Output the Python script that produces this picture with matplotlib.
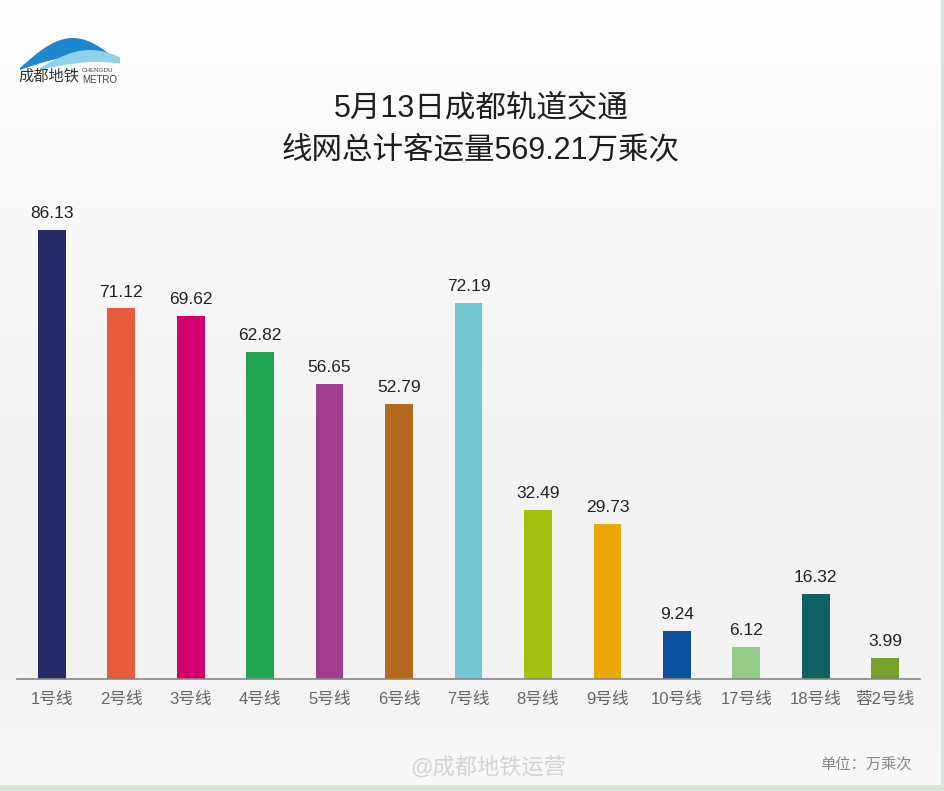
import numpy as np
import matplotlib.pyplot as plt
from matplotlib.patches import Polygon, Rectangle

# Arial-like latin glyphs, CJK from Noto
plt.rcParams['font.family'] = ['Liberation Sans', 'Noto Sans CJK SC', 'DejaVu Sans']

lines = ['1号线', '2号线', '3号线', '4号线', '5号线', '6号线', '7号线',
         '8号线', '9号线', '10号线', '17号线', '18号线', '蓉2号线']
ridership = [86.13, 71.12, 69.62, 62.82, 56.65, 52.79, 72.19,
             32.49, 29.73, 9.24, 6.12, 16.32, 3.99]
colors = ['#262a66', '#e75a3c', '#d1006e', '#22a652', '#a13e8f', '#b5691d', '#72c5d3',
          '#a4c10f', '#e9a700', '#0b51a0', '#93cb86', '#0e6264', '#77a12b']

W, H = 945, 791
fig = plt.figure(figsize=(W / 100, H / 100), dpi=100)

# background: white at the top, very light grey around the bars, lighter at the bottom
bg = fig.add_axes([0, 0, 1, 1], zorder=-10)
yy = np.linspace(0, 1, 400)  # 0 = top
shade = np.interp(yy, [0.0, 0.15, 0.55, 0.85, 1.0], [1.0, 0.985, 0.955, 0.955, 0.975])
bgimg = np.dstack([shade, shade, shade]).reshape(-1, 1, 3)
bg.imshow(bgimg, aspect='auto', extent=[0, 1, 0, 1])
# pale green frame on bottom/right edges
bg.add_patch(Rectangle((0, 0), 1, 6 / H, color='#d5e6d5', lw=0))
bg.add_patch(Rectangle((1 - 4 / W, 0), 4 / W, 1, color='#d5e6d5', lw=0))
bg.set_xlim(0, 1)
bg.set_ylim(0, 1)
bg.axis('off')

# logo swoosh
lx0, ly0 = 20 / W, 1 - 70 / H
t = np.linspace(0, 1, 60)
top = np.column_stack([lx0 + t * 95 / W, ly0 + (np.sin(t * np.pi * 0.9) * 30 + 2) / H])
bot = np.column_stack([lx0 + t[::-1] * 95 / W, ly0 + (np.sin(t[::-1] * np.pi * 0.75) * 14) / H])
bg.add_patch(Polygon(np.vstack([top, bot]), closed=True, color='#1e88cf', lw=0))
top2 = np.column_stack([lx0 + (20 + t * 80) / W, ly0 + (np.sin(t * np.pi * 0.8) * 18 + 2) / H])
bot2 = np.column_stack([lx0 + (20 + t[::-1] * 80) / W, ly0 + (np.sin(t[::-1] * np.pi * 0.7) * 8) / H])
bg.add_patch(Polygon(np.vstack([top2, bot2]), closed=True, color='#8fd3ea', lw=0))
fig.text(18 / W, 1 - 76 / H, '成都地铁', fontsize=11, color='#333333', va='center', ha='left')
fig.text(82 / W, 1 - 71 / H, 'CHENGDU', fontsize=4.5, color='#444444', va='center', ha='left')
fig.text(82 / W, 1 - 80 / H, 'METRO', fontsize=7, color='#444444', va='center', ha='left')

# title
fig.text(481 / W, 1 - 108 / H, '5月13日成都轨道交通', fontsize=22, color='#1e1e1e',
         ha='center', va='center')
fig.text(481 / W, 1 - 150 / H, '线网总计客运量569.21万乘次', fontsize=22, color='#1e1e1e',
         ha='center', va='center')

# chart
base_px, top_px = 679, 190
ax = fig.add_axes([17 / W, 1 - base_px / H, 903 / W, (base_px - top_px) / H])
ax.patch.set_alpha(0)
x = np.arange(len(lines))
ax.bar(x, ridership, width=0.40, color=colors, zorder=2)
for xi, v in zip(x, ridership):
    ax.text(xi, v + 1.7, f'{v:.2f}', ha='center', va='bottom', fontsize=12.5, color='#222222')
ax.set_xlim(-0.5, len(lines) - 0.5)
ax.set_ylim(0, (base_px - top_px) / 5.21)
ax.set_xticks(x)
ax.set_xticklabels(lines, fontsize=12, color='#666666')
ax.tick_params(axis='x', length=0, pad=9)
ax.set_yticks([])
for s in ['top', 'right', 'left']:
    ax.spines[s].set_visible(False)
ax.spines['bottom'].set_color('#888888')
ax.spines['bottom'].set_linewidth(1.2)

# footer texts
fig.text(488 / W, 1 - 769 / H, '@成都地铁运营', fontsize=16, color='#d4d4d4',
         ha='center', va='center')
fig.text(820 / W, 1 - 765 / H, '单位：万乘次', fontsize=11, color='#888888',
         ha='left', va='center')

fig.savefig('out.png', dpi=100)
